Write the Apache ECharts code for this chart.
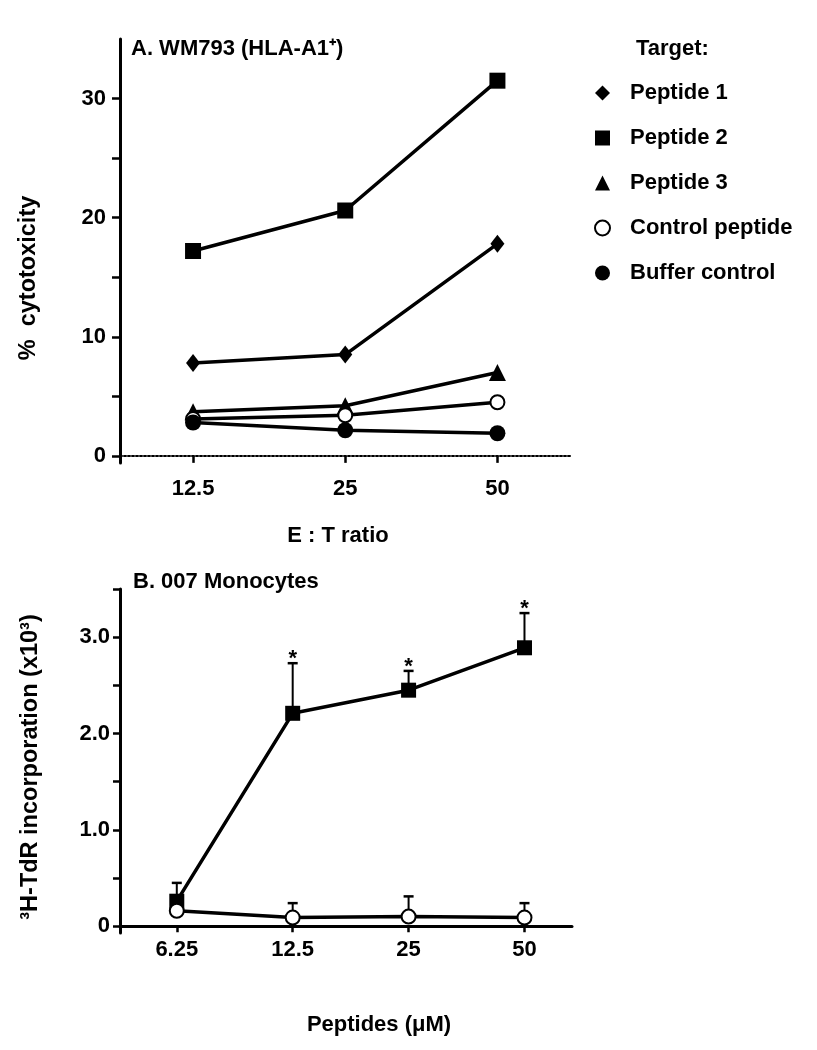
<!DOCTYPE html>
<html>
<head>
<meta charset="utf-8">
<script src="https://cdn.jsdelivr.net/npm/echarts@6/dist/echarts.min.js"></script>
<style>
html,body{margin:0;padding:0;background:#fff;}
#chart{width:817px;height:1050px;}
</style>
</head>
<body>
<div id="chart"></div>
<script>
// ---------- Panel A data ----------
const ratioCats = ['12.5', '25', '50'];
const peptide1 = [7.8, 8.5, 17.8];
const peptide2 = [17.2, 20.6, 31.5];
const peptide3 = [3.7, 4.2, 7.0];
const controlPeptide = [3.1, 3.4, 4.5];
const bufferControl = [2.8, 2.15, 1.9];
const yTicksA = [0, 5, 10, 15, 20, 25, 30];
const yLabelsA = [0, 10, 20, 30];

// ---------- Panel B data ----------
const concCats = ['6.25', '12.5', '25', '50'];
const p2Mean = [0.26, 2.21, 2.45, 2.89];
const p2Upper = [0.45, 2.73, 2.65, 3.25];
const p2Signif = [0, 1, 1, 1];
const ctrlMean = [0.16, 0.09, 0.10, 0.09];
const ctrlUpper = [0.25, 0.24, 0.31, 0.24];
const ctrlSignif = [0, 0, 0, 0];
const yTicksB = [0, 0.5, 1.0, 1.5, 2.0, 2.5, 3.0, 3.5];
const yLabelsB = [0, 1.0, 2.0, 3.0];

const FONT = '"Liberation Sans", Arial, Helvetica, sans-serif';
const BLACK = '#000';

const chart = echarts.init(document.getElementById('chart'), null, {renderer: 'canvas'});

function pts(arr) { return arr.map((v, i) => [i, v]); }

function lineSeries(name, data, symbol, size, xi) {
  return {
    type: 'line', name: name, xAxisIndex: xi, yAxisIndex: xi,
    data: pts(data), symbol: symbol, symbolSize: size,
    showAllSymbol: true,
    lineStyle: {color: BLACK, width: 3.5},
    itemStyle: {color: BLACK, borderColor: BLACK, borderWidth: symbol === 'emptyCircle' ? 3 : 0},
    emphasis: {disabled: true},
    z: 3
  };
}

function errSeries(mean, upper, sig, xi) {
  return {
    type: 'custom', xAxisIndex: xi, yAxisIndex: xi, z: 1,
    data: mean.map((m, i) => [i, m, upper[i], sig[i]]),
    encode: {x: 0, y: [1, 2]},
    renderItem: function (params, api) {
      const x = api.value(0);
      const p1 = api.coord([x, api.value(1)]);
      const p2 = api.coord([x, api.value(2)]);
      const children = [
        {type: 'line', shape: {x1: p1[0], y1: p1[1], x2: p2[0], y2: p2[1]}, style: {stroke: BLACK, lineWidth: 2}},
        {type: 'line', shape: {x1: p2[0] - 5, y1: p2[1], x2: p2[0] + 5, y2: p2[1]}, style: {stroke: BLACK, lineWidth: 2.5}}
      ];
      if (api.value(3)) {
        children.push({type: 'text', style: {text: '*', x: p2[0], y: p2[1] - 4, align: 'center', verticalAlign: 'middle',
          textAlign: 'center', textVerticalAlign: 'middle', fill: BLACK, font: 'bold 22px ' + FONT}});
      }
      return {type: 'group', children: children};
    }
  };
}

const tickFont = {color: BLACK, fontSize: 22, fontWeight: 'bold', fontFamily: FONT};
const nameFont = {color: BLACK, fontSize: 22, fontWeight: 'bold', fontFamily: FONT};
const yNameFont = {color: BLACK, fontSize: 23.5, fontWeight: 'bold', fontFamily: FONT};
const titleFont = {color: BLACK, fontSize: 22, fontWeight: 'bold', fontFamily: FONT};

const option = {
  animation: false,
  backgroundColor: '#fff',
  textStyle: {fontFamily: FONT},
  title: [
    {text: 'A. WM793 (HLA-A1⁺)', left: 131, top: 38, padding: 0, textStyle: titleFont},
    {text: 'Target:', left: 636, top: 38, padding: 0, textStyle: titleFont},
    {text: 'B. 007 Monocytes', left: 133, top: 571, padding: 0, textStyle: titleFont}
  ],
  legend: {
    orient: 'vertical', left: 589, top: 77, itemWidth: 15, itemHeight: 15, itemGap: 23,
    selectedMode: false,
    data: [
      {name: 'Peptide 1', icon: 'diamond'},
      {name: 'Peptide 2', icon: 'rect'},
      {name: 'Peptide 3', icon: 'triangle'},
      {name: 'Control peptide', icon: 'emptyCircle'},
      {name: 'Buffer control', icon: 'circle'}
    ],
    itemStyle: {color: BLACK, borderColor: BLACK},
    formatter: function (n) { return '{t|' + n + '}'; },
    textStyle: {
      color: BLACK, fontSize: 22, fontWeight: 'bold', fontFamily: FONT,
      rich: {t: {color: BLACK, fontSize: 22, fontWeight: 'bold', fontFamily: FONT, lineHeight: 22, padding: [0, 0, 0, 15]}}
    }
  },
  grid: [
    {left: 120, top: 39, width: 452, height: 424, containLabel: false},
    {left: 120, top: 589, width: 452, height: 344, containLabel: false}
  ],
  xAxis: [
    {
      type: 'value', gridIndex: 0, min: -0.48, max: 2.49,
      name: 'E : T ratio', nameLocation: 'middle', nameGap: 73,
      nameTextStyle: Object.assign({verticalAlign: 'middle', padding: [0, 16, 0, 0]}, nameFont),
      axisLine: {show: true, onZero: true, lineStyle: {color: BLACK, width: 2, type: [2, 2]}},
      axisTick: {show: true, inside: false, length: 7, customValues: ratioCats.map((c, i) => i), lineStyle: {color: BLACK, width: 2.5, type: 'solid'}},
      axisLabel: {show: true, margin: 15, customValues: ratioCats.map((c, i) => i), formatter: v => ratioCats[Math.round(v)], ...tickFont},
      splitLine: {show: false}
    },
    {
      type: 'value', gridIndex: 1, min: -0.49, max: 3.41,
      name: 'Peptides (μM)', nameLocation: 'middle', nameGap: 92,
      nameTextStyle: Object.assign({verticalAlign: 'middle', padding: [0, 0, 0, 66]}, nameFont),
      axisLine: {show: true, onZero: true, lineStyle: {color: BLACK, width: 3}},
      axisTick: {show: true, inside: false, length: 6, customValues: concCats.map((c, i) => i), lineStyle: {color: BLACK, width: 2.5}},
      axisLabel: {show: true, margin: 6, customValues: concCats.map((c, i) => i), formatter: v => concCats[Math.round(v)], ...tickFont},
      splitLine: {show: false}
    }
  ],
  yAxis: [
    {
      type: 'value', gridIndex: 0, min: -0.6, max: 35,
      name: '%  cytotoxicity', nameLocation: 'middle', nameGap: 91, nameRotate: 90,
      nameTextStyle: Object.assign({verticalAlign: 'middle', padding: [0, 54, 0, 0]}, yNameFont),
      axisLine: {show: true, onZero: false, lineStyle: {color: BLACK, width: 3}},
      axisTick: {show: true, inside: false, length: 8, customValues: yTicksA, lineStyle: {color: BLACK, width: 2.5}},
      axisLabel: {show: true, margin: 14, customValues: yLabelsA, ...tickFont},
      splitLine: {show: false}
    },
    {
      type: 'value', gridIndex: 1, min: -0.07, max: 3.5,
      name: '³H-TdR incorporation (x10³)', nameLocation: 'middle', nameGap: 89, nameRotate: 90,
      nameTextStyle: Object.assign({verticalAlign: 'middle', padding: [0, 12, 0, 0]}, yNameFont),
      axisLine: {show: true, onZero: false, lineStyle: {color: BLACK, width: 3}},
      axisTick: {show: true, inside: false, length: 7, customValues: yTicksB, lineStyle: {color: BLACK, width: 2.5}},
      axisLabel: {show: true, margin: 10, customValues: yLabelsB, formatter: v => (v === 0 ? '0' : v.toFixed(1)), ...tickFont},
      splitLine: {show: false}
    }
  ],
  series: [
    lineSeries('Peptide 1', peptide1, 'diamond', [14, 18], 0),
    lineSeries('Peptide 2', peptide2, 'rect', 16, 0),
    lineSeries('Peptide 3', peptide3, 'triangle', 17, 0),
    lineSeries('Control peptide', controlPeptide, 'emptyCircle', 14, 0),
    lineSeries('Buffer control', bufferControl, 'circle', 16, 0),
    errSeries(p2Mean, p2Upper, p2Signif, 1),
    errSeries(ctrlMean, ctrlUpper, ctrlSignif, 1),
    lineSeries('Peptide 2', p2Mean, 'rect', 15, 1),
    lineSeries('Control peptide', ctrlMean, 'emptyCircle', 14, 1)
  ]
};
chart.setOption(option);
</script>
</body>
</html>
